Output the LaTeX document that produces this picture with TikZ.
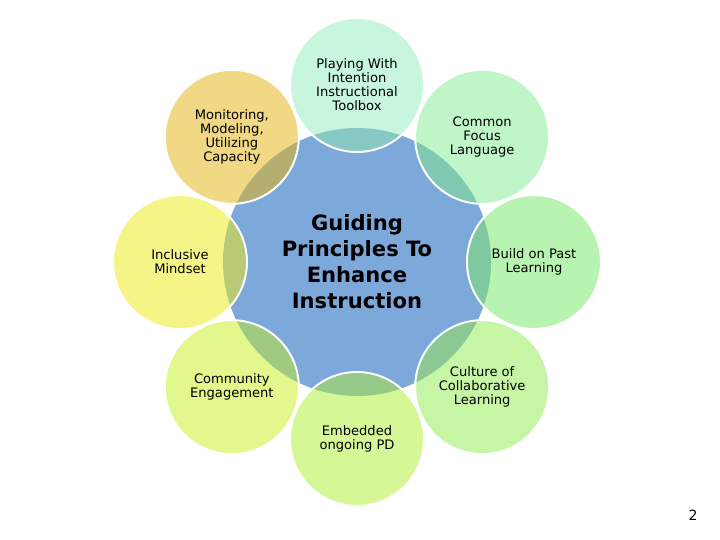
\documentclass[tikz,border=0pt]{standalone}
\usepackage{fontspec}
\setmainfont{DejaVu Sans}
\usepackage{xcolor}
\usetikzlibrary{positioning}

\definecolor{hubblue}{RGB}{125,168,218}
\definecolor{playfill}{RGB}{200,245,222}
\definecolor{focusfill}{RGB}{192,245,200}
\definecolor{pastfill}{RGB}{185,243,178}
\definecolor{culturefill}{RGB}{198,245,165}
\definecolor{pdfill}{RGB}{214,247,150}
\definecolor{communityfill}{RGB}{226,247,140}
\definecolor{mindsetfill}{RGB}{245,245,135}
\definecolor{monitorfill}{RGB}{240,216,132}
\definecolor{playlens}{RGB}{135,200,196}
\definecolor{focuslens}{RGB}{128,200,178}
\definecolor{pastlens}{RGB}{128,200,160}
\definecolor{culturelens}{RGB}{140,200,148}
\definecolor{pdlens}{RGB}{150,202,136}
\definecolor{communitylens}{RGB}{160,202,128}
\definecolor{mindsetlens}{RGB}{185,202,118}
\definecolor{monitorlens}{RGB}{180,175,112}

\begin{document}
\begin{tikzpicture}[
    sat/.style={circle, minimum size=3.35cm, inner sep=0pt, align=center,
      font=\fontsize{9.3}{10}\selectfont},
    hub/.style={circle, fill=hubblue, minimum size=6.7cm, inner sep=0pt,
      align=center, font=\fontsize{15}{18.5}\selectfont\bfseries},
    ring/.style={draw=white, line width=1.4pt},
  ]
    \useasboundingbox (-8.925,6.55) rectangle (9.075,-6.95);

    % --- centre ---
    \node[hub] (hub) at (0,0) {Guiding\\Principles To\\Enhance\\Instruction};

    % --- satellites ---
    \node[sat, fill=playfill] (play) at (90:4.425)
      {Playing With\\Intention\\Instructional\\Toolbox};
    \node[sat, fill=focusfill] (focus) at (45:4.425) {Common\\Focus\\Language};
    \node[sat, fill=pastfill] (past) at (0:4.425) {Build on Past\\Learning};
    \node[sat, fill=culturefill] (culture) at (-45:4.425)
      {Culture of\\Collaborative\\Learning};
    \node[sat, fill=pdfill] (pd) at (-90:4.425) {Embedded\\ongoing PD};
    \node[sat, fill=communityfill] (community) at (-135:4.425)
      {Community\\Engagement};
    \node[sat, fill=mindsetfill] (mindset) at (180:4.425) {Inclusive\\Mindset};
    \node[sat, fill=monitorfill] (monitor) at (135:4.425)
      {Monitoring,\\Modeling,\\Utilizing\\Capacity};

    % overlaps with the centre
    \begin{scope}
      \clip (hub.center) circle[radius=3.35cm];
      \fill[playlens] (play.center) circle[radius=1.675cm];
      \fill[focuslens] (focus.center) circle[radius=1.675cm];
      \fill[pastlens] (past.center) circle[radius=1.675cm];
      \fill[culturelens] (culture.center) circle[radius=1.675cm];
      \fill[pdlens] (pd.center) circle[radius=1.675cm];
      \fill[communitylens] (community.center) circle[radius=1.675cm];
      \fill[mindsetlens] (mindset.center) circle[radius=1.675cm];
      \fill[monitorlens] (monitor.center) circle[radius=1.675cm];
    \end{scope}

    % white rims
    \draw[ring] (play.center) circle[radius=1.675cm];
    \draw[ring] (focus.center) circle[radius=1.675cm];
    \draw[ring] (past.center) circle[radius=1.675cm];
    \draw[ring] (culture.center) circle[radius=1.675cm];
    \draw[ring] (pd.center) circle[radius=1.675cm];
    \draw[ring] (community.center) circle[radius=1.675cm];
    \draw[ring] (mindset.center) circle[radius=1.675cm];
    \draw[ring] (monitor.center) circle[radius=1.675cm];

    % page number
    \node[font=\fontsize{10}{12}\selectfont] (pagenum) at (8.4,-6.325) {2};
  \end{tikzpicture}
\end{document}
